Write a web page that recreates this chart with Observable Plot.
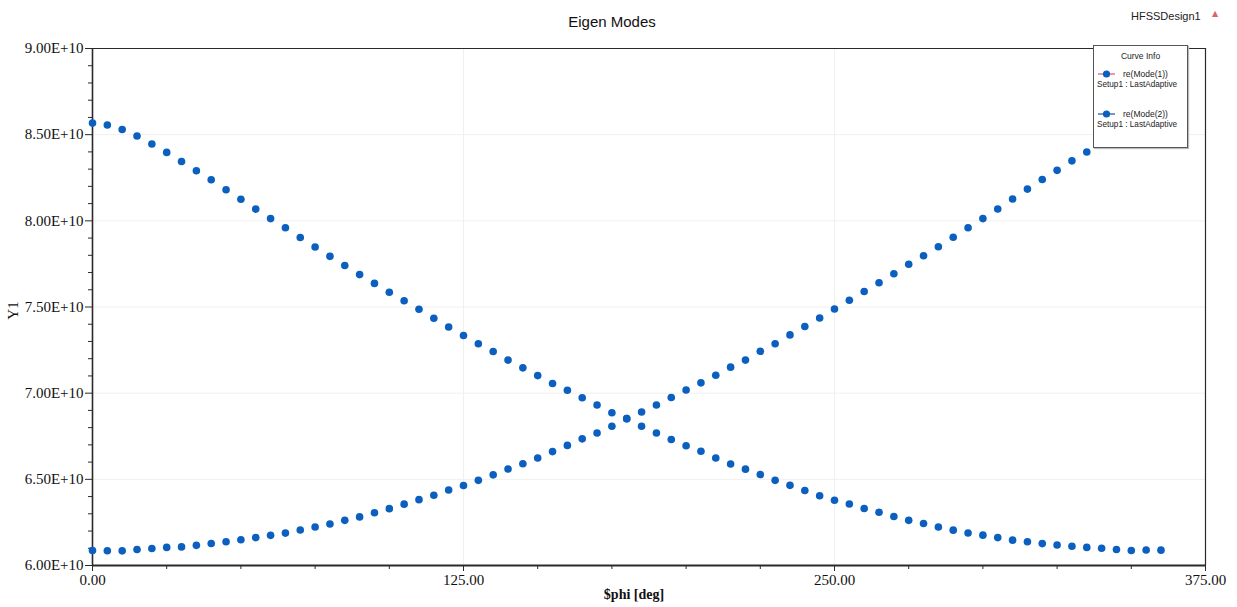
<!DOCTYPE html>
<html>
<head>
<meta charset="utf-8">
<script src="https://cdn.jsdelivr.net/npm/d3@7"></script>
<script src="https://cdn.jsdelivr.net/npm/@observablehq/plot@0.6"></script>
<style>
  html, body { margin: 0; padding: 0; background: #fff; overflow: hidden; }
  #wrap { position: relative; width: 1237px; height: 607px; }
  .ov { position: absolute; white-space: nowrap; line-height: 1; }
  #title { left: 0; width: 1224px; top: 13px; text-align: center; font: 15px "Liberation Sans", Arial, sans-serif; color: #111; }
  #design { left: 1131px; top: 10px; font: 11px "Liberation Sans", Arial, sans-serif; color: #222; }
  #warn { left: 1212px; top: 9px; font: 8px "DejaVu Sans", sans-serif; color: #d9646e; }
  #ylab { left: 4px; top: 302px; font: 15px "Liberation Serif", "Times New Roman", serif; color: #111; transform: rotate(-90deg); transform-origin: center; }
  #xlab { left: 0; width: 1268px; top: 587px; text-align: center; font: bold 14px "Liberation Serif", "Times New Roman", serif; color: #111; }
  #legend { left: 1093px; top: 45px; width: 93px; height: 101px; background: #fff; border: 1px solid #555; box-shadow: 1px 1px 1px #bbb; font-family: "Liberation Sans", Arial, sans-serif; color: #222; }
  #legend .t { position: absolute; white-space: nowrap; line-height: 1; }
  #legend svg { position: absolute; left: 0; top: 0; }
</style>
</head>
<body>
<div id="wrap"></div>
<script>
// Sweep angle $phi in degrees (5° steps).
const phi = [
  0, 5, 10, 15, 20, 25, 30, 35, 40, 45, 50, 55, 60, 65, 70, 75, 80, 85, 90, 95,
  100, 105, 110, 115, 120, 125, 130, 135, 140, 145, 150, 155, 160, 165, 170, 175,
  180, 185, 190, 195, 200, 205, 210, 215, 220, 225, 230, 235, 240, 245, 250, 255,
  260, 265, 270, 275, 280, 285, 290, 295, 300, 305, 310, 315, 320, 325, 330, 335,
  340, 345, 350, 355, 360
];

// re(Mode(1)) eigenfrequency, in units of 1E+10 Hz.
const mode1 = [
  8.567, 8.556, 8.530, 8.492, 8.446, 8.397, 8.344, 8.291, 8.238, 8.180,
  8.125, 8.068, 8.013, 7.960, 7.903, 7.848, 7.794, 7.741, 7.688, 7.637,
  7.586, 7.536, 7.487, 7.435, 7.384, 7.335, 7.287, 7.242, 7.192, 7.147,
  7.102, 7.056, 7.017, 6.973, 6.931, 6.886, 6.852, 6.808, 6.769, 6.731,
  6.695, 6.663, 6.624, 6.589, 6.559, 6.528, 6.494, 6.465, 6.435, 6.405,
  6.379, 6.357, 6.331, 6.309, 6.284, 6.262, 6.244, 6.223, 6.205, 6.189,
  6.176, 6.162, 6.147, 6.138, 6.127, 6.119, 6.112, 6.105, 6.100, 6.093,
  6.087, 6.090, 6.089
];

// re(Mode(2)) eigenfrequency, in units of 1E+10 Hz (0°–335°).
const mode2 = [
  6.087, 6.086, 6.085, 6.093, 6.099, 6.105, 6.108, 6.117, 6.128, 6.138,
  6.149, 6.162, 6.175, 6.188, 6.206, 6.223, 6.241, 6.262, 6.282, 6.306,
  6.330, 6.356, 6.382, 6.408, 6.438, 6.464, 6.494, 6.526, 6.560, 6.590,
  6.624, 6.661, 6.697, 6.735, 6.769, 6.808, 6.852, 6.891, 6.931, 6.975,
  7.018, 7.060, 7.104, 7.151, 7.192, 7.243, 7.287, 7.338, 7.387, 7.436,
  7.488, 7.539, 7.590, 7.641, 7.693, 7.748, 7.797, 7.850, 7.905, 7.960,
  8.013, 8.069, 8.127, 8.184, 8.240, 8.293, 8.348, 8.399
];

// Axis ticks.
const xTicks = [0, 125, 250, 375];
const xMinor = [25, 50, 75, 100, 150, 175, 200, 225, 275, 300, 325, 350];
const yTicks = [6.0e10, 6.5e10, 7.0e10, 7.5e10, 8.0e10, 8.5e10, 9.0e10];
const yMinor = [6.1e10, 6.2e10, 6.3e10, 6.4e10, 6.6e10, 6.7e10, 6.8e10, 6.9e10,
                7.1e10, 7.2e10, 7.3e10, 7.4e10, 7.6e10, 7.7e10, 7.8e10, 7.9e10,
                8.1e10, 8.2e10, 8.3e10, 8.4e10, 8.6e10, 8.7e10, 8.8e10, 8.9e10];

const rows = [
  ...mode1.map((v, i) => ({phi: phi[i], f: v * 1e10, mode: "Mode(1)"})),
  ...mode2.map((v, i) => ({phi: phi[i], f: v * 1e10, mode: "Mode(2)"}))
];

const dotBlue = "#0a5fbf";
const axisColor = "#2a2a2a";

const chart = Plot.plot({
  width: 1237,
  height: 607,
  marginLeft: 92,
  marginRight: 32,
  marginTop: 48,
  marginBottom: 42,
  x: {domain: [0, 375]},
  y: {domain: [6e10, 9e10]},
  style: {
    fontFamily: '"Liberation Serif", "Times New Roman", serif',
    fontSize: "15px",
    color: "#111",
    background: "transparent",
    overflow: "visible"
  },
  marks: [
    Plot.gridY(yTicks.slice(1, -1), {stroke: "#f0f0f0", strokeOpacity: 1}),
    Plot.gridX(xTicks.slice(1, -1), {stroke: "#f0f0f0", strokeOpacity: 1}),
    Plot.axisY(yMinor, {tickSize: 4, tickFormat: () => "", label: null, stroke: axisColor}),
    Plot.axisY(yTicks, {tickSize: 7, tickPadding: 2, label: null, stroke: axisColor,
      tickFormat: d => (d / 1e10).toFixed(2) + "E+10"}),
    Plot.axisX(xMinor, {tickSize: 4, tickFormat: () => "", label: null, stroke: axisColor}),
    Plot.axisX(xTicks, {tickSize: 6, tickPadding: 3, label: null, stroke: axisColor,
      tickFormat: d => d.toFixed(2)}),
    Plot.ruleY([9e10], {stroke: axisColor, strokeWidth: 1.2}),
    Plot.ruleX([375], {stroke: axisColor, strokeWidth: 1.2}),
    Plot.ruleX([0], {stroke: axisColor, strokeWidth: 1.6}),
    Plot.ruleY([6e10], {stroke: axisColor, strokeWidth: 2}),
    Plot.dot(rows, {x: "phi", y: "f", r: 3.8, fill: dotBlue, stroke: "none"})
  ]
});

const wrap = document.getElementById("wrap");
wrap.appendChild(chart);

function overlay(id, text) {
  const el = document.createElement("div");
  el.className = "ov";
  el.id = id;
  el.textContent = text;
  wrap.appendChild(el);
  return el;
}
overlay("title", "Eigen Modes");
overlay("design", "HFSSDesign1");
overlay("warn", "▲");
overlay("ylab", "Y1");
overlay("xlab", "$phi [deg]");

// Curve Info legend box
const legend = document.createElement("div");
legend.className = "ov";
legend.id = "legend";
legend.innerHTML = `
  <svg width="93" height="101">
    <line x1="4" y1="28" x2="21" y2="28" stroke="#e0607a" stroke-width="1.3"/>
    <circle cx="12.5" cy="28" r="3.6" fill="${dotBlue}"/>
    <line x1="4" y1="68" x2="21" y2="68" stroke="#2d5fa8" stroke-width="1.3"/>
    <circle cx="12.5" cy="68" r="3.6" fill="${dotBlue}"/>
  </svg>
  <div class="t" style="left:0;width:93px;text-align:center;top:6px;font-size:8.5px">Curve Info</div>
  <div class="t" style="left:29px;top:23.5px;font-size:8.5px">re(Mode(1))</div>
  <div class="t" style="left:3px;top:35px;font-size:8.2px">Setup1 : LastAdaptive</div>
  <div class="t" style="left:29px;top:63.5px;font-size:8.5px">re(Mode(2))</div>
  <div class="t" style="left:3px;top:75px;font-size:8.2px">Setup1 : LastAdaptive</div>
`;
wrap.appendChild(legend);
</script>
</body>
</html>
